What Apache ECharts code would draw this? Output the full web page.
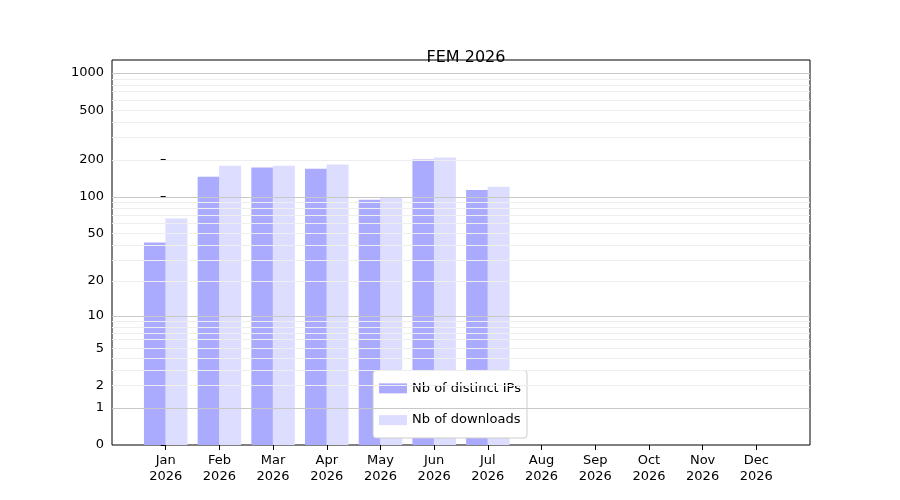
<!doctype html>
<html>
<head>
<script src="https://cdn.jsdelivr.net/npm/echarts@6/dist/echarts.min.js"></script>
</head>
<body style="margin:0">
<div id="main" style="width:900px;height:500px;"></div>
<script>
var months = ['Jan', 'Feb', 'Mar', 'Apr', 'May', 'Jun', 'Jul', 'Aug', 'Sep', 'Oct', 'Nov', 'Dec'];
var year = '2026';
var distinctIPs = [42, 145, 172, 168, 94, 200, 113];
var downloads = [66, 178, 178, 182, 98, 207, 120];
var yTicks = [0, 1, 2, 5, 10, 20, 50, 100, 200, 500, 1000];

// symlog-like transform used by the original: log10(1 + v)
function tr(v) { return Math.log10(1 + v); }

var majorLines = [1, 10, 100, 1000];
var minorLines = [];
[1, 10, 100].forEach(function (d) {
  for (var k = 2; k <= 9; k++) minorLines.push(k * d);
});

var option = {
  animation: false,
  title: { text: 'FEM ' + year, left: 461, top: 37, textAlign: 'center',
    textStyle: { fontFamily: 'DejaVu Sans', fontWeight: 'normal', fontSize: 16, color: '#000' } },
  grid: { left: 112, right: 90, top: 60, bottom: 55, show: true, borderColor: '#000', borderWidth: 1 },
  legend: {
    bottom: 62, left: 'center', orient: 'vertical', itemWidth: 28, itemHeight: 10, itemGap: 6,
    icon: 'rect',
    backgroundColor: '#fff', borderColor: '#ccc', borderWidth: 1, borderRadius: 3, padding: [5, 6],
    textStyle: { fontFamily: 'DejaVu Sans', fontSize: 13, color: '#000' },
    data: ['Nb of distinct IPs', 'Nb of downloads']
  },
  xAxis: {
    type: 'value', min: -1, max: 12,
    axisLine: { show: false }, splitLine: { show: false },
    axisTick: { show: true, customValues: months.map(function (m, i) { return i; }), lineStyle: { color: '#000' } },
    axisLabel: { customValues: months.map(function (m, i) { return i; }), color: '#000',
      fontFamily: 'DejaVu Sans', fontSize: 13, lineHeight: 16,
      formatter: function (v) { return months[v] + '\n' + year; } }
  },
  yAxis: {
    type: 'value', min: 0, max: 3.105,
    axisLine: { show: false }, splitLine: { show: false },
    axisTick: { show: true, customValues: yTicks.map(tr), lineStyle: { color: '#000' } },
    axisLabel: { customValues: yTicks.map(tr), color: '#000', fontFamily: 'DejaVu Sans', fontSize: 13,
      formatter: function (v) {
        for (var i = 0; i < yTicks.length; i++) if (Math.abs(tr(yTicks[i]) - v) < 1e-6) return yTicks[i];
        return '';
      } }
  },
  series: [
    {
      name: 'grid', type: 'line', data: [], silent: true, z: 1,
      markLine: {
        silent: true, symbol: ['none', 'none'], label: { show: false }, emphasis: { disabled: true },
        data: majorLines.map(function (v) { return { yAxis: tr(v), lineStyle: { color: '#c8c8c8', width: 1, type: 'solid' } }; })
          .concat(minorLines.map(function (v) { return { yAxis: tr(v), lineStyle: { color: '#eeeeee', width: 1, type: 'solid' } }; }))
      }
    },
    {
      name: 'Nb of distinct IPs', type: 'bar', barWidth: 22, barGap: '-100%', z: 3,
      itemStyle: { color: '#aaaaff' },
      data: distinctIPs.map(function (v, i) { return [i - 0.2, tr(v)]; })
    },
    {
      name: 'Nb of downloads', type: 'bar', barWidth: 22, barGap: '-100%', z: 3,
      itemStyle: { color: '#ddddff' },
      data: downloads.map(function (v, i) { return [i + 0.2, tr(v)]; })
    }
  ]
};
var myChart = echarts.init(document.getElementById('main'));
myChart.setOption(option);
</script>
</body>
</html>
